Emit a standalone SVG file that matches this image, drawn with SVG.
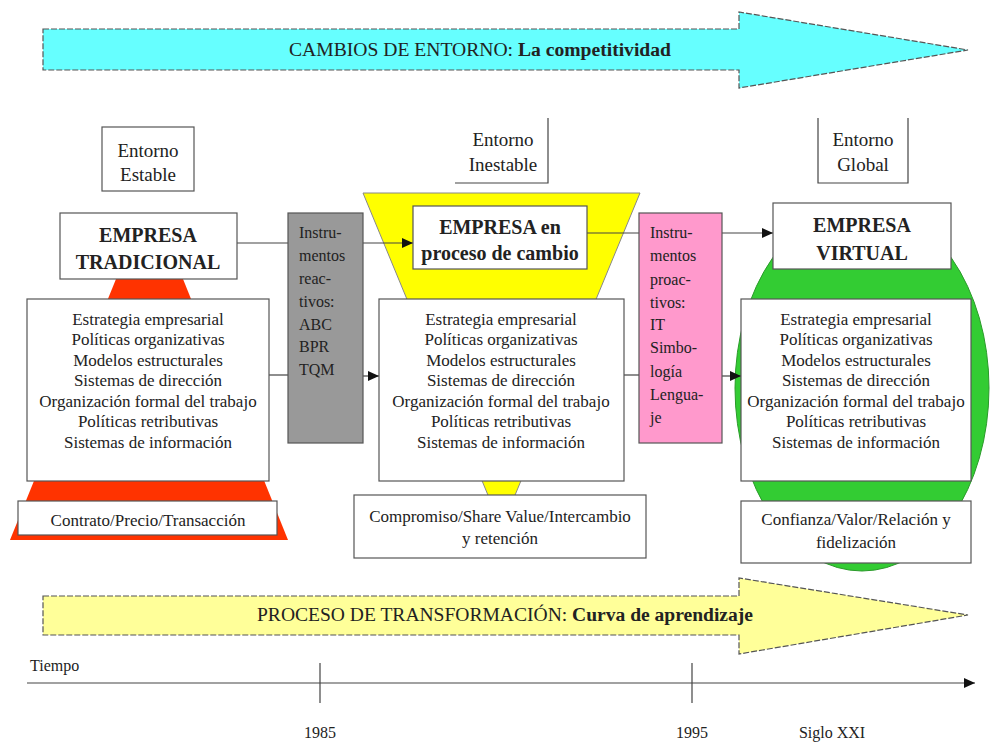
<svg xmlns="http://www.w3.org/2000/svg" width="997" height="745" viewBox="0 0 997 745" font-family="'Liberation Serif', 'Times New Roman', Tinos, 'DejaVu Serif', serif">
<style>
text{font-family:'Liberation Serif','Times New Roman',Tinos,'DejaVu Serif',serif;fill:#222}
.box{fill:#fff;stroke:#555;stroke-width:1.2}
.ln{stroke:#444;stroke-width:1.2;fill:none}
.arr{stroke:#444;stroke-width:1.2;fill:none;marker-end:url(#ah)}
.big{stroke:#555;stroke-width:1.2;stroke-dasharray:6 2}
.ent{font-size:19px;text-anchor:middle}
.emp{font-size:20px;font-weight:bold;text-anchor:middle}
.lst{font-size:17px;text-anchor:middle}
.ins{font-size:16px}
.tl{font-size:16px}
</style>
<defs>
<marker id="ah" markerUnits="userSpaceOnUse" markerWidth="12" markerHeight="10" refX="11" refY="5" orient="auto">
<path d="M0,0 L11,5 L0,10 Z" fill="#111"/>
</marker>
</defs>

<g id="arrow-cambios">
<polygon class="big" fill="#66ffff" points="43,29 739,29 739,12 968,50 739,88 739,70 43,70"/>
<text x="480" y="56" font-size="18" text-anchor="middle" textLength="382" lengthAdjust="spacingAndGlyphs">CAMBIOS DE ENTORNO: <tspan font-weight="bold">La competitividad</tspan></text>
</g>

<g id="arrow-proceso">
<polygon class="big" fill="#ffff99" points="43,596 739,596 739,578 968,615 739,654 739,635 43,635"/>
<text x="505" y="621" font-size="18" text-anchor="middle" textLength="496" lengthAdjust="spacingAndGlyphs">PROCESO DE TRANSFORMACIÓN: <tspan font-weight="bold">Curva de aprendizaje</tspan></text>
</g>

<g id="shapes">
<polygon fill="#ff3300" points="116,279 183,279 288,540 10,540"/>
<polygon fill="#ffff00" stroke="#888" stroke-width="1" points="363,193 640,193 513,500 490,500"/>
<ellipse fill="#33cc33" stroke="#2a9a2a" stroke-width="1" cx="862" cy="388" rx="127" ry="183"/>
</g>

<g id="connectors">
<line class="ln" x1="237" y1="243" x2="288" y2="243"/>
<line class="arr" x1="363" y1="243" x2="413" y2="243"/>
<line class="ln" x1="269" y1="375" x2="288" y2="375"/>
<line class="arr" x1="363" y1="376" x2="379" y2="376"/>
<line class="ln" x1="587" y1="233" x2="639" y2="233"/>
<line class="arr" x1="722" y1="233" x2="773" y2="233"/>
<line class="ln" x1="624" y1="375" x2="639" y2="375"/>
<line class="arr" x1="722" y1="376" x2="741" y2="376"/>
</g>

<g id="entorno-estable">
<rect class="box" x="102" y="127" width="92" height="64"/>
<text class="ent" x="148" y="157">Entorno</text>
<text class="ent" x="148" y="181">Estable</text>
</g>

<g id="entorno-inestable">
<polyline class="ln" points="548,118 548,183 455,183"/>
<text class="ent" x="503" y="146">Entorno</text>
<text class="ent" x="503" y="171">Inestable</text>
</g>

<g id="entorno-global">
<polyline class="ln" points="818,118 818,183 908,183 908,118"/>
<text class="ent" x="863" y="146">Entorno</text>
<text class="ent" x="863" y="171">Global</text>
</g>

<g id="empresa-tradicional">
<rect class="box" x="60" y="213" width="177" height="66"/>
<text class="emp" x="148" y="242">EMPRESA</text>
<text class="emp" x="148" y="269">TRADICIONAL</text>
</g>

<g id="empresa-cambio">
<rect class="box" x="413" y="206" width="174" height="63"/>
<text class="emp" x="500" y="234">EMPRESA en</text>
<text class="emp" x="500" y="260">proceso de cambio</text>
</g>

<g id="empresa-virtual">
<rect class="box" x="773" y="203" width="178" height="66"/>
<text class="emp" x="862" y="232">EMPRESA</text>
<text class="emp" x="862" y="260">VIRTUAL</text>
</g>

<g id="lista-tradicional">
<rect class="box" x="27" y="299" width="242" height="182"/>
<text class="lst" x="148" y="325">Estrategia empresarial</text>
<text class="lst" x="148" y="345">Políticas organizativas</text>
<text class="lst" x="148" y="366">Modelos estructurales</text>
<text class="lst" x="148" y="386">Sistemas de dirección</text>
<text class="lst" x="148" y="407">Organización formal del trabajo</text>
<text class="lst" x="148" y="427">Políticas retributivas</text>
<text class="lst" x="148" y="448">Sistemas de información</text>
</g>

<g id="lista-cambio">
<rect class="box" x="379" y="299" width="245" height="182"/>
<text class="lst" x="501" y="325">Estrategia empresarial</text>
<text class="lst" x="501" y="345">Políticas organizativas</text>
<text class="lst" x="501" y="366">Modelos estructurales</text>
<text class="lst" x="501" y="386">Sistemas de dirección</text>
<text class="lst" x="501" y="407">Organización formal del trabajo</text>
<text class="lst" x="501" y="427">Políticas retributivas</text>
<text class="lst" x="501" y="448">Sistemas de información</text>
</g>

<g id="lista-virtual">
<rect class="box" x="741" y="299" width="230" height="182"/>
<text class="lst" x="856" y="325">Estrategia empresarial</text>
<text class="lst" x="856" y="345">Políticas organizativas</text>
<text class="lst" x="856" y="366">Modelos estructurales</text>
<text class="lst" x="856" y="386">Sistemas de dirección</text>
<text class="lst" x="856" y="407">Organización formal del trabajo</text>
<text class="lst" x="856" y="427">Políticas retributivas</text>
<text class="lst" x="856" y="448">Sistemas de información</text>
</g>

<g id="instrumentos-reactivos">
<rect x="288" y="213" width="75" height="230" fill="#999" stroke="#555" stroke-width="1.2"/>
<text class="ins" x="299" y="238">Instru-</text>
<text class="ins" x="299" y="261">mentos</text>
<text class="ins" x="299" y="284">reac-</text>
<text class="ins" x="299" y="307">tivos:</text>
<text class="ins" x="299" y="330">ABC</text>
<text class="ins" x="299" y="352">BPR</text>
<text class="ins" x="299" y="375">TQM</text>
</g>

<g id="instrumentos-proactivos">
<rect x="639" y="213" width="83" height="230" fill="#ff99cc" stroke="#555" stroke-width="1.2"/>
<text class="ins" x="650" y="238">Instru-</text>
<text class="ins" x="650" y="261">mentos</text>
<text class="ins" x="650" y="285">proac-</text>
<text class="ins" x="650" y="308">tivos:</text>
<text class="ins" x="650" y="330">IT</text>
<text class="ins" x="650" y="353">Simbo-</text>
<text class="ins" x="650" y="377">logía</text>
<text class="ins" x="650" y="400">Lengua-</text>
<text class="ins" x="650" y="423">je</text>
</g>

<g id="contrato">
<rect class="box" x="18" y="501" width="259" height="34"/>
<text class="lst" x="148" y="526">Contrato/Precio/Transacción</text>
</g>

<g id="compromiso">
<rect class="box" x="354" y="495" width="292" height="63"/>
<text class="lst" x="500" y="522">Compromiso/Share Value/Intercambio</text>
<text class="lst" x="500" y="544">y retención</text>
</g>

<g id="confianza">
<rect class="box" x="741" y="501" width="230" height="62"/>
<text class="lst" x="856" y="525">Confianza/Valor/Relación y</text>
<text class="lst" x="856" y="548">fidelización</text>
</g>

<g id="timeline">
<line class="arr" x1="27" y1="683" x2="975" y2="683"/>
<line class="ln" x1="320" y1="663" x2="320" y2="703"/>
<line class="ln" x1="692" y1="663" x2="692" y2="703"/>
<text class="tl" x="30" y="671">Tiempo</text>
<text class="tl" x="320" y="738" text-anchor="middle">1985</text>
<text class="tl" x="692" y="738" text-anchor="middle">1995</text>
<text class="tl" x="832" y="738" text-anchor="middle">Siglo XXI</text>
</g>
</svg>
